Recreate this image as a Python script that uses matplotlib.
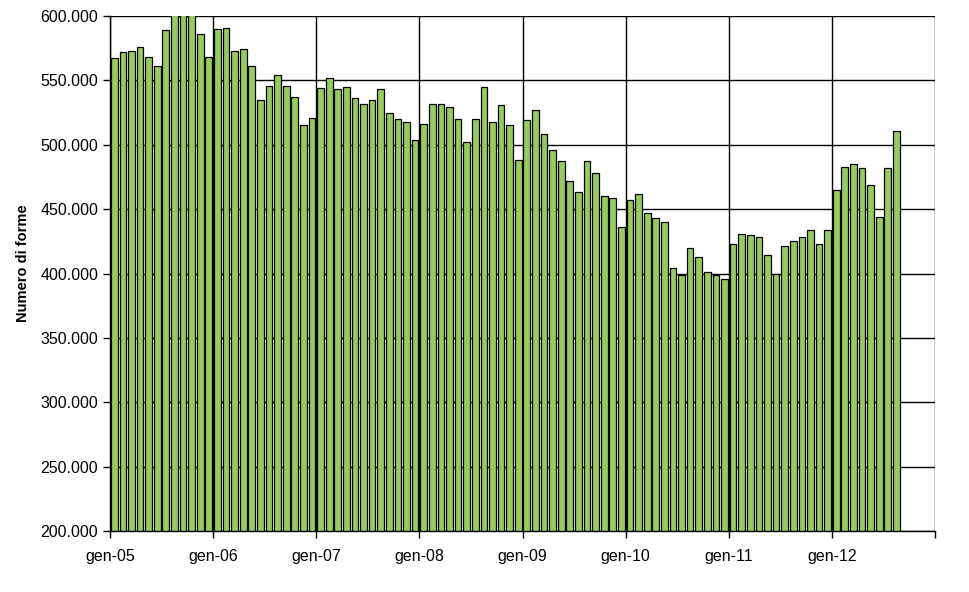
import numpy as np
import matplotlib
matplotlib.use('Agg')
import matplotlib.pyplot as plt
from matplotlib.ticker import FuncFormatter

plt.rcParams['font.family'] = ['Liberation Sans', 'DejaVu Sans']

# numero di forme mensile, gen-05 .. ago-12 (ago-ott 05 fuori scala)
v2005 = [567, 572, 573, 576, 568, 561, 589, 612, 625, 610, 586, 568]
v2006 = [590, 591, 573, 574, 561, 535, 546, 554, 546, 537, 515, 521]
v2007 = [544, 552, 543, 545, 536, 532, 535, 543, 525, 520, 518, 504]
v2008 = [516, 532, 532, 529, 520, 502, 520, 545, 518, 531, 515, 488]
v2009 = [519, 527, 508, 496, 487, 472, 463, 487, 478, 460, 459, 436]
v2010 = [457, 462, 447, 443, 440, 404, 399, 420, 413, 401, 399, 396]
v2011 = [423, 431, 430, 428, 414, 400, 421, 425, 428, 434, 423, 434]
v2012 = [465, 483, 485, 482, 469, 444, 482, 511]
valori = np.array(v2005 + v2006 + v2007 + v2008 + v2009 + v2010 + v2011 + v2012) * 1000

anni = ['gen-05', 'gen-06', 'gen-07', 'gen-08', 'gen-09', 'gen-10', 'gen-11', 'gen-12', '']

fig = plt.figure(figsize=(9.69, 5.92), dpi=100)
ax = fig.add_axes([0.1135, 0.103, 0.8515, 0.870])

mesi = np.arange(len(valori)) + 0.5
ax.bar(mesi, valori, width=0.78, color='#96CC5C', edgecolor='black', linewidth=0.9, zorder=2)

ax.set_xlim(0, 96)
ax.set_ylim(200000, 600000)
ax.set_xticks(np.arange(0, 97, 12))
ax.set_xticklabels(anni)
ax.set_yticks(np.arange(200000, 600001, 50000))
ax.yaxis.set_major_formatter(FuncFormatter(lambda y, p: '{:,.0f}'.format(y).replace(',', '.')))

ax.grid(True, color='black', linewidth=1, zorder=0)
ax.set_axisbelow(True)
for s in ['top', 'right']:
    ax.spines[s].set_visible(False)
ax.spines['left'].set_linewidth(1)
ax.spines['bottom'].set_linewidth(1)
ax.tick_params(axis='both', direction='out', length=5, width=1, labelsize=11.5, colors='black')
ax.tick_params(axis='x', pad=8)

ax.set_ylabel('Numero di forme', fontsize=10.5, fontweight='bold')
ax.yaxis.set_label_coords(-0.097, 0.52)

fig.savefig('out.png', dpi=100)
